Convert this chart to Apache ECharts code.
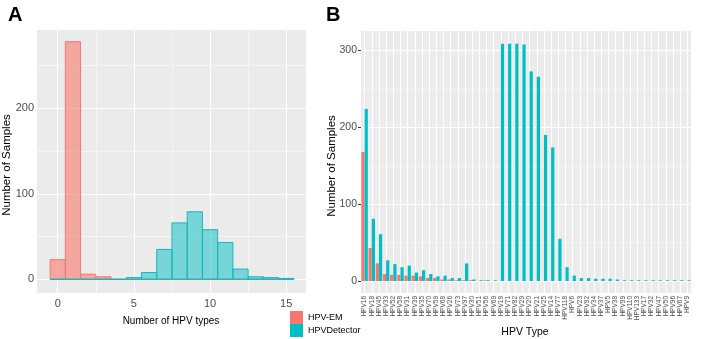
<!DOCTYPE html>
<html>
<head>
<meta charset="utf-8">
<script src="https://cdn.jsdelivr.net/npm/echarts@6/dist/echarts.min.js"></script>
<style>
html,body{margin:0;padding:0;background:#fff;}
#c{width:707px;height:339px;}
</style>
</head>
<body>
<div id="c"></div>
<script>
// ---- Panel A data (histogram of number of HPV types per sample) ----
const histBins = [0,1,2,3,4,5,6,7,8,9,10,11,12,13,14,15];
const emHist   = [23,278,6,3,0,0,0,0,0,0,0,0,0,0,0,0];
const detHist  = [0,0,0,0,0,2,8,35,66,79,58,43,12,3,2,1];
const aXTicks = [0,5,10,15];
const aXMinor = [2.5,7.5,12.5];
const aYTicks = [0,100,200];
const aYMinor = [50,150,250];

// ---- Panel B data (samples per HPV type) ----
const hpvTypes = ['HPV16','HPV18','HPV45','HPV33','HPV52','HPV58','HPV31','HPV39','HPV35','HPV70',
  'HPV59','HPV68','HPV26','HPV73','HPV97','HPV30','HPV51','HPV56','HPV69','HPV19',
  'HPV71','HPV82','HPV29','HPV20','HPV21','HPV25','HPV14','HPV77','HPV118','HPV6',
  'HPV23','HPV92','HPV34','HPV37','HPV5','HPV38','HPV99','HPV110','HPV133','HPV17',
  'HPV32','HPV47','HPV50','HPV96','HPV67','HPV9'];
const emCounts  = [168,43,23,9,8,8,7,7,6,4,4,2,2,1,1,1,0,1,0,
  0,0,0,0,0,0,0,0,0,0,0,0,0,0,0,0,0,0,0,0,0,0,0,0,0,0,0];
const detCounts = [224,81,61,27,22,18,20,11,14,9,6,7,4,4,23,2,1,1,1,
  309,309,309,308,273,266,190,174,55,18,7,4,4,3,3,3,2,1,1,1,1,1,1,1,1,1,1];
const bYTicks = [0,100,200,300];
const bYMinor = [50,150,250];

const RED = '#F8766D', TEAL = '#00BFC4';
const FONT = '"Liberation Sans", Arial, sans-serif';

function histRender(fill, stroke) {
  return function (params, api) {
    const x = api.value(0), y = api.value(1);
    const p0 = api.coord([x - 0.5, y]);
    const p1 = api.coord([x + 0.5, 0]);
    return {
      type: 'rect',
      shape: { x: p0[0], y: p0[1], width: p1[0] - p0[0], height: p1[1] - p0[1] },
      style: { fill: fill, stroke: stroke, lineWidth: 1 }
    };
  };
}

function gridLines(xIdx, yIdx, key, major, minor) {
  const data = [];
  major.forEach(v => data.push({ [key]: v, lineStyle: { color: '#fff', width: 1.1, type: 'solid' } }));
  minor.forEach(v => data.push({ [key]: v, lineStyle: { color: '#fff', width: 0.5, type: 'solid' } }));
  return {
    type: 'line', xAxisIndex: xIdx, yAxisIndex: yIdx, data: [], z: 1, silent: true,
    markLine: { z: 1, silent: true, symbol: 'none', label: { show: false },
      emphasis: { disabled: true }, animation: false, data: data }
  };
}

const axisLabelStyle = { color: '#4D4D4D', fontFamily: FONT };
const tickStyle = { show: true, length: 3, lineStyle: { color: '#333333', width: 1 } };

const chart = echarts.init(document.getElementById('c'), null, { renderer: 'canvas' });
chart.setOption({
  animation: false,
  backgroundColor: '#fff',
  textStyle: { fontFamily: FONT },
  grid: [
    { left: 37, top: 30, width: 269, height: 263, show: true, backgroundColor: '#EBEBEB', borderWidth: 0 },
    { left: 361, top: 31, width: 330, height: 262, show: true, backgroundColor: '#EBEBEB', borderWidth: 0 }
  ],
  xAxis: [
    { type: 'value', gridIndex: 0, min: -1.36, max: 16.3,
      axisLine: { show: false }, splitLine: { show: false },
      axisTick: Object.assign({ customValues: aXTicks }, tickStyle),
      axisLabel: Object.assign({ customValues: aXTicks, fontSize: 11, margin: 5 }, axisLabelStyle) },
    { type: 'category', gridIndex: 1, data: hpvTypes, boundaryGap: true,
      axisLine: { show: false }, splitLine: { show: false },
      axisTick: Object.assign({ alignWithLabel: true, interval: 0 }, tickStyle),
      axisLabel: Object.assign({ interval: 0, rotate: 90, fontSize: 6.5, margin: 3 }, axisLabelStyle) }
  ],
  yAxis: [
    { type: 'value', gridIndex: 0, min: -16, max: 291.6,
      axisLine: { show: false }, splitLine: { show: false },
      axisTick: Object.assign({ customValues: aYTicks }, tickStyle),
      axisLabel: Object.assign({ customValues: aYTicks, fontSize: 11, margin: 3 }, axisLabelStyle) },
    { type: 'value', gridIndex: 1, min: -15.6, max: 325.5,
      axisLine: { show: false }, splitLine: { show: false },
      axisTick: Object.assign({ customValues: bYTicks }, tickStyle),
      axisLabel: Object.assign({ customValues: bYTicks, fontSize: 10.5, margin: 4 }, axisLabelStyle) }
  ],
  legend: {
    data: ['HPV-EM', 'HPVDetector'], orient: 'vertical', left: 290, top: 311,
    icon: 'rect', itemWidth: 13, itemHeight: 13, itemGap: 0, padding: 0,
    textStyle: { fontSize: 9, color: '#000', fontFamily: FONT }
  },
  series: [
    gridLines(0, 0, 'xAxis', aXTicks, aXMinor),
    gridLines(0, 0, 'yAxis', aYTicks, aYMinor),
    gridLines(1, 1, 'xAxis', hpvTypes, []),
    gridLines(1, 1, 'yAxis', bYTicks, bYMinor),
    { type: 'custom', name: 'A-EM', xAxisIndex: 0, yAxisIndex: 0, z: 3,
      renderItem: histRender('rgba(248,118,109,0.6)', '#F07A72'),
      data: histBins.map((b, i) => [b, emHist[i]]) },
    { type: 'custom', name: 'A-Det', xAxisIndex: 0, yAxisIndex: 0, z: 4,
      renderItem: histRender('rgba(0,191,196,0.5)', '#1AB5B9'),
      data: histBins.map((b, i) => [b, detHist[i]]) },
    { type: 'bar', name: 'HPV-EM', xAxisIndex: 1, yAxisIndex: 1, z: 3,
      barWidth: '45%', barGap: '0%', itemStyle: { color: RED }, data: emCounts },
    { type: 'bar', name: 'HPVDetector', xAxisIndex: 1, yAxisIndex: 1, z: 3,
      barWidth: '45%', barGap: '0%', itemStyle: { color: TEAL }, data: detCounts }
  ],
  graphic: [
    { type: 'text', x: 8, y: 5, style: { text: 'A', font: 'bold 20px ' + FONT, fill: '#000' } },
    { type: 'text', x: 326, y: 5, style: { text: 'B', font: 'bold 20px ' + FONT, fill: '#000' } },
    { type: 'text', x: 7, y: 165, rotation: Math.PI / 2,
      style: { text: 'Number of Samples', font: '11.5px ' + FONT, fill: '#000', align: 'center', verticalAlign: 'middle', textAlign: 'center', textVerticalAlign: 'middle' } },
    { type: 'text', x: 332, y: 166, rotation: Math.PI / 2,
      style: { text: 'Number of Samples', font: '11.5px ' + FONT, fill: '#000', align: 'center', verticalAlign: 'middle', textAlign: 'center', textVerticalAlign: 'middle' } },
    { type: 'text', x: 171, y: 321,
      style: { text: 'Number of HPV types', font: '10px ' + FONT, fill: '#000', align: 'center', verticalAlign: 'middle', textAlign: 'center', textVerticalAlign: 'middle' } },
    { type: 'text', x: 525, y: 332,
      style: { text: 'HPV Type', font: '10.5px ' + FONT, fill: '#000', align: 'center', verticalAlign: 'middle', textAlign: 'center', textVerticalAlign: 'middle' } }
  ]
});
</script>
</body>
</html>
